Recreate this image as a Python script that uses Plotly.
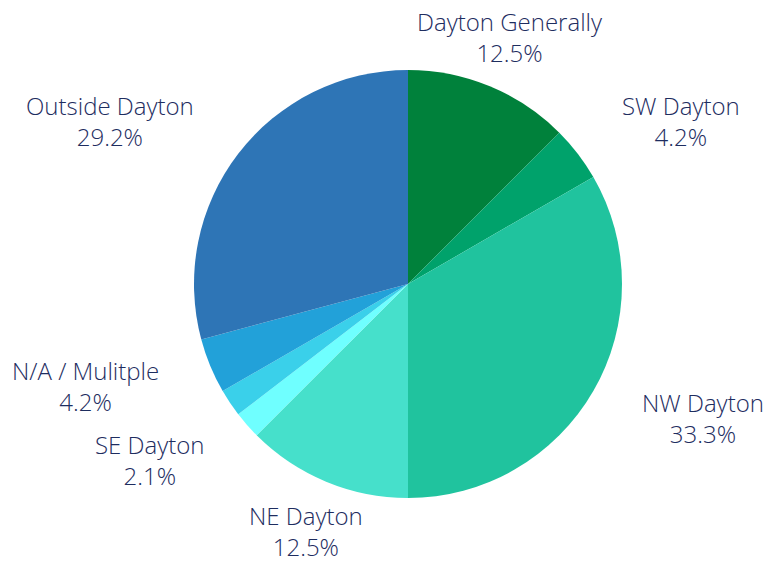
import math
import plotly.graph_objects as go

labels = ["Dayton Generally", "SW Dayton", "NW Dayton", "NE Dayton", "SE Dayton", "Other", "N/A / Mulitple", "Outside Dayton"]
values = [6, 2, 16, 6, 1, 1, 2, 14]
colors = ["#00813B", "#00A26B", "#20C39E", "#46E0CB", "#6FFFFF", "#3AD0EA", "#22A1D9", "#2E75B6"]
shown = [1, 1, 1, 1, 1, 0, 1, 1]

W, H = 773, 563
OX, OY = 8, 7                  # page offset of the figure
CX, CY, R = 408 - OX, 283 - OY, 214   # pie centre and radius in figure pixels
LABEL_R = 1.25 * R             # label anchor radius

fig = go.Figure(go.Pie(
    labels=labels,
    values=values,
    textinfo="none",
    sort=False,
    direction="clockwise",
    rotation=0,
    marker=dict(colors=colors, line=dict(width=0)),
    domain=dict(x=[(CX - R) / W, (CX + R) / W], y=[1 - (CY + R) / H, 1 - (CY - R) / H]),
    showlegend=False,
    hoverinfo="label+percent",
))

total = sum(values)
cum = 0
annotations = []
for lab, v, s in zip(labels, values, shown):
    mid = (cum + v / 2) / total * 2 * math.pi
    cum += v
    if not s:
        continue
    sx, cy = math.sin(mid), math.cos(mid)
    px = CX + LABEL_R * sx
    py = CY - LABEL_R * cy
    xa = "left" if sx > 0.5 else ("right" if sx < -0.5 else "center")
    annotations.append(dict(
        x=px / W, y=1 - py / H, xref="paper", yref="paper",
        text=f"{lab}<br>{v / total * 100:.1f}%",
        showarrow=False, xanchor=xa, yanchor="middle", align="center",
        font=dict(family="Open Sans", size=24, color="#1E2D5F", weight=300),
    ))

fig.update_layout(
    width=W, height=H,
    margin=dict(l=0, r=0, t=0, b=0),
    paper_bgcolor="white",
    plot_bgcolor="white",
    annotations=annotations,
)

fig.write_html("out.html")
